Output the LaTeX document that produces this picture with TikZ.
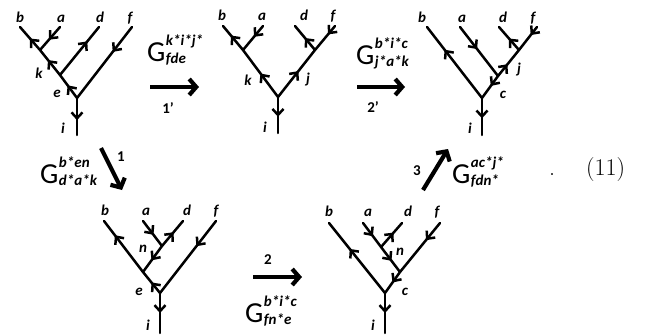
\documentclass[tikz,border=0pt]{standalone}
\usepackage{fontspec}
\usetikzlibrary{arrows.meta,decorations.markings}
\newfontfamily\carl{Carlito}
\newcommand{\gsc}{\carl\bfseries\itshape\fontsize{15}{15}\selectfont}
\newcommand{\Gmove}[2]{{\carl\fontsize{29}{29}\selectfont G}\kern0.5pt%
  \rlap{\raisebox{16pt}{\gsc #1}}\raisebox{-2pt}{\gsc #2}}

\begin{document}
\begin{tikzpicture}[x=1pt,y=-1pt,
  tline/.style={line width=2.5pt,line cap=round},
  fw/.style={postaction={decorate},decoration={markings,
    mark=at position #1 with {\arrow{Straight Barb[length=6pt,width=11pt]}}}},
  fw/.default=0.5,
  bigarr/.style={line width=4.2pt,-{Straight Barb[length=7pt,width=16pt]}},
  lbl/.style={inner sep=0pt,font=\carl\bfseries\itshape\fontsize{15}{15}\selectfont},
  num/.style={inner sep=0pt,font=\carl\bfseries\fontsize{15}{15}\selectfont},
  gl/.style={inner sep=0pt,anchor=base west}
]
\useasboundingbox (0,0) rectangle (654,335);

% tree A
\coordinate (Ai) at (77,135);
\coordinate (Ar) at (77,98);
\coordinate (Ae) at (60,75);
\coordinate (Ak) at (40,50);
\coordinate (Ab) at (20,27);
\coordinate (Aa) at (60,27);
\coordinate (Ad) at (99,27);
\coordinate (Af) at (132,27);
\draw[tline,fw=0.6]  (Ar) -- (Ai);
\draw[tline,fw=0.55] (Ar) -- (Ae);
\draw[tline,fw=0.6]  (Ae) -- (Ak);
\draw[tline,fw=0.5]  (Ak) -- (Ab);
\draw[tline,fw=0.55] (Aa) -- (Ak);
\draw[tline,fw=0.7]  (Ae) -- (Ad);
\draw[tline,fw=0.35] (Af) -- (Ar);
\node[lbl,anchor=base] (Ab-l) at (20,22)  {b};
\node[lbl,anchor=base] (Aa-l) at (61,22)  {a};
\node[lbl,anchor=base] (Ad-l) at (100,22) {d};
\node[lbl,anchor=base] (Af-l) at (130,22) {f};
\node[lbl] (Ak-l) at (39,73)  {k};
\node[lbl] (Ae-l) at (57,94)  {e};
\node[lbl] (Ai-l) at (63,128) {i};

% tree B
\coordinate (Bi) at (278,133);
\coordinate (Br) at (278,97);
\coordinate (Bk) at (243,50);
\coordinate (Bj) at (315,50);
\coordinate (Bb) at (223,26);
\coordinate (Ba) at (263,26);
\coordinate (Bd) at (295,26);
\coordinate (Bf) at (335,26);
\draw[tline,fw=0.55] (Br) -- (Bi);
\draw[tline,fw=0.5]  (Br) -- (Bk);
\draw[tline,fw=0.55] (Br) -- (Bj);
\draw[tline,fw=0.6]  (Bk) -- (Bb);
\draw[tline,fw=0.45] (Ba) -- (Bk);
\draw[tline,fw=0.5]  (Bj) -- (Bd);
\draw[tline,fw=0.35] (Bf) -- (Bj);
\node[lbl,anchor=base] (Bb-l) at (222,20) {b};
\node[lbl,anchor=base] (Ba-l) at (262,20) {a};
\node[lbl,anchor=base] (Bd-l) at (304,20) {d};
\node[lbl,anchor=base] (Bf-l) at (333,20) {f};
\node[lbl] (Bk-l) at (248,80)  {k};
\node[lbl] (Bj-l) at (308,80)  {j};
\node[lbl] (Bi-l) at (265,127) {i};

% tree C
\coordinate (Ci) at (482,135);
\coordinate (Cr) at (482,98);
\coordinate (Cc) at (498,76);
\coordinate (Cj) at (519,50);
\coordinate (Cb) at (427,27);
\coordinate (Ca) at (460,27);
\coordinate (Cd) at (499,27);
\coordinate (Cf) at (537,27);
\draw[tline,fw=0.55] (Cr) -- (Ci);
\draw[tline,fw=0.68] (Cr) -- (Cb);
\draw[tline,fw=0.45] (Cc) -- (Cr);
\draw[tline,fw=0.45] (Ca) -- (Cc);
\draw[tline,fw=0.45] (Cc) -- (Cj);
\draw[tline,fw=0.5]  (Cj) -- (Cd);
\draw[tline,fw=0.35] (Cf) -- (Cj);
\node[lbl,anchor=base] (Cb-l) at (422,22) {b};
\node[lbl,anchor=base] (Ca-l) at (462,22) {a};
\node[lbl,anchor=base] (Cd-l) at (503,22) {d};
\node[lbl,anchor=base] (Cf-l) at (533,22) {f};
\node[lbl] (Cj-l) at (519,70)  {j};
\node[lbl] (Cc-l) at (503,95)  {c};
\node[lbl] (Ci-l) at (470,128) {i};

% tree D
\coordinate (Di) at (160,333);
\coordinate (Dr) at (160,293);
\coordinate (De) at (143,272);
\coordinate (Dn) at (162,246);
\coordinate (Db) at (104,221);
\coordinate (Da) at (143,221);
\coordinate (Dd) at (183,221);
\coordinate (Df) at (216,221);
\draw[tline,fw=0.5]  (Dr) -- (Di);
\draw[tline,fw=0.5]  (Dr) -- (De);
\draw[tline,fw=0.72] (De) -- (Db);
\draw[tline,fw=0.55] (Dn) -- (De);
\draw[tline,fw=0.55] (Da) -- (Dn);
\draw[tline,fw=0.55] (Dn) -- (Dd);
\draw[tline,fw=0.35] (Df) -- (Dr);
\node[lbl,anchor=base] (Db-l) at (105,215) {b};
\node[lbl,anchor=base] (Da-l) at (146,215) {a};
\node[lbl,anchor=base] (Dd-l) at (187,215) {d};
\node[lbl,anchor=base] (Df-l) at (216,215) {f};
\node[lbl] (Dn-l) at (143,249) {n};
\node[lbl] (De-l) at (139,292) {e};
\node[lbl] (Di-l) at (148,325) {i};

% tree E
\coordinate (Ei) at (385,333);
\coordinate (Er) at (385,293);
\coordinate (Ec) at (400,272);
\coordinate (En) at (381,247);
\coordinate (Eb) at (329,223);
\coordinate (Ea) at (363,223);
\coordinate (Ed) at (402,223);
\coordinate (Ef) at (440,223);
\draw[tline,fw=0.5]  (Er) -- (Ei);
\draw[tline,fw=0.63] (Er) -- (Eb);
\draw[tline,fw=0.5]  (Ec) -- (Er);
\draw[tline,fw=0.55] (En) -- (Ec);
\draw[tline,fw=0.55] (Ea) -- (En);
\draw[tline,fw=0.6]  (En) -- (Ed);
\draw[tline,fw=0.35] (Ef) -- (Ec);
\node[lbl,anchor=base] (Eb-l) at (329,216) {b};
\node[lbl,anchor=base] (Ea-l) at (368,216) {a};
\node[lbl,anchor=base] (Ed-l) at (408,216) {d};
\node[lbl,anchor=base] (Ef-l) at (437,216) {f};
\node[lbl] (En-l) at (400,252) {n};
\node[lbl] (Ec-l) at (405,292) {c};
\node[lbl] (Ei-l) at (373,325) {i};

% moves
\coordinate (m1a) at (150,87);  \coordinate (m1b) at (199,87);
\coordinate (m2a) at (357,87);  \coordinate (m2b) at (405,87);
\coordinate (n1a) at (101,148); \coordinate (n1b) at (122,190);
\coordinate (n2a) at (253,277); \coordinate (n2b) at (302,277);
\coordinate (n3a) at (423,190); \coordinate (n3b) at (448,149);
\draw[bigarr] (m1a) -- (m1b);
\draw[bigarr] (m2a) -- (m2b);
\draw[bigarr] (n1a) -- (n1b);
\draw[bigarr] (n2a) -- (n2b);
\draw[bigarr] (n3a) -- (n3b);
\node[num] (m1-l) at (168,108) {1’};
\node[num] (m2-l) at (373,107) {2’};
\node[num] (n1-l) at (121,157) {1};
\node[num] (n2-l) at (268,260) {2};
\node[num] (n3-l) at (417,171) {3};
\node[gl] (m1-g) at (147,61)  {\Gmove{k*i*j*}{fde}};
\node[gl] (m2-g) at (356,64)  {\Gmove{b*i*c}{j*a*k}};
\node[gl] (n1-g) at (40,183)  {\Gmove{b*en}{d*a*k}};
\node[gl] (n2-g) at (245,322) {\Gmove{b*i*c}{fn*e}};
\node[gl] (n3-g) at (452,183) {\Gmove{ac*j*}{fdn*}};

\node[inner sep=0pt,anchor=base] (dot) at (552,175) {\fontsize{24}{24}\selectfont .};
\node[inner sep=0pt,anchor=base west] (eqno) at (586,175) {\fontsize{24}{24}\selectfont (11)};
\end{tikzpicture}
\end{document}
